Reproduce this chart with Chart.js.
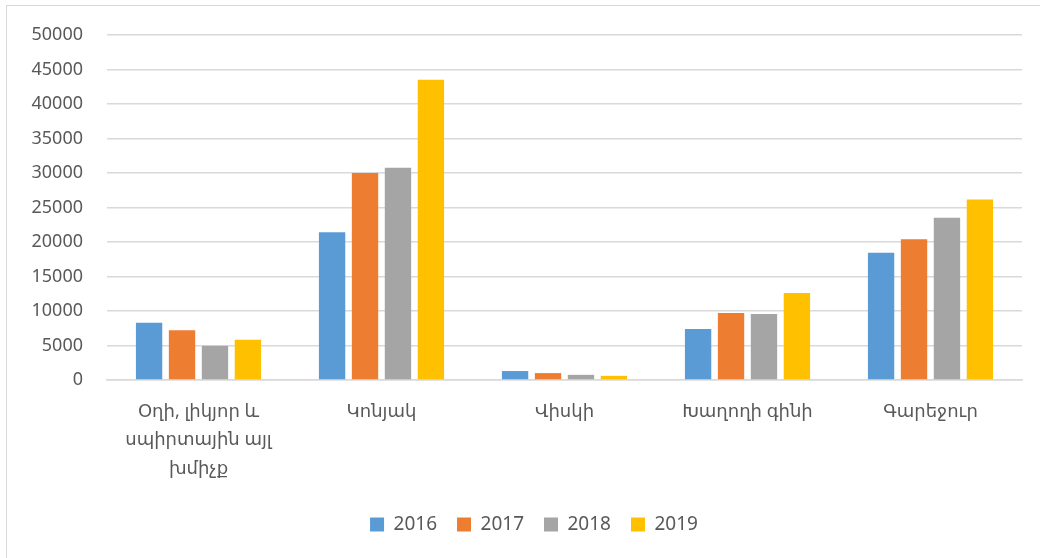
<!DOCTYPE html>
<html>
<head>
<meta charset="utf-8">
<script src="https://cdn.jsdelivr.net/npm/chart.js@4.4.1/dist/chart.umd.min.js"></script>
<style>
    html, body { margin: 0; padding: 0; background: #fff; overflow: hidden; }
    #marco {
        position: absolute; left: 6px; top: 5px; width: 1100px; height: 600px;
        border-left: 1px solid #d9d9d9; border-top: 1px solid #d9d9d9;
    }
    #caja { position: absolute; left: 0; top: 0; width: 1040px; height: 558px; }
</style>
</head>
<body>
<div id="marco"></div>
<div id="caja"><canvas id="barChart" width="1040" height="558"></canvas></div>
<script>
// Datos del gráfico
const categorias = [
    ["Օղի, լիկյոր և", "սպիրտային այլ", "խմիչք"],
    "Կոնյակ",
    "Վիսկի",
    "Խաղողի գինի",
    "Գարեջուր"
];
const anios = ["2016", "2017", "2018", "2019"];
const valores2016 = [8300, 21400, 1300, 7400, 18450];
const valores2017 = [7200, 30000, 1000, 9700, 20400];
const valores2018 = [4950, 30750, 750, 9550, 23500];
const valores2019 = [5850, 43500, 600, 12600, 26150];
const colores = ["#5B9BD5", "#ED7D31", "#A5A5A5", "#FFC000"];

const fuente = "'Noto Sans', 'DejaVu Sans', sans-serif";
const gris = "#595959";

const series = [valores2016, valores2017, valores2018, valores2019];

// Desplaza la leyenda un poco a la derecha (centrada como en el original)
const moverLeyenda = {
    id: "moverLeyenda",
    afterLayout(chart) {
        if (chart.legend) chart.legend.left += 46;
    }
};

new Chart(document.getElementById("barChart"), {
    type: "bar",
    data: {
        labels: categorias,
        datasets: series.map((datos, i) => ({
            label: anios[i],
            data: datos,
            backgroundColor: colores[i],
            borderWidth: 0,
            categoryPercentage: 0.72,
            barPercentage: 0.8
        }))
    },
    options: {
        responsive: false,
        animation: false,
        layout: { padding: { top: 35, right: 18, bottom: 14, left: 0 } },
        scales: {
            x: {
                grid: { display: false, drawTicks: false },
                border: { display: true, color: "#d9d9d9", width: 1.5 },
                ticks: {
                    color: gris,
                    font: { family: fuente, size: 18, lineHeight: 1.6 },
                    padding: 17,
                    maxRotation: 0,
                    autoSkip: false
                },
                afterFit: function(escala) { escala.height = 115; }
            },
            y: {
                min: 0,
                max: 50000,
                ticks: {
                    stepSize: 5000,
                    color: gris,
                    font: { family: fuente, size: 18 },
                    padding: 24,
                    callback: v => String(v) // sin separador de miles
                },
                grid: { color: "#d9d9d9", lineWidth: 1.5, drawTicks: false },
                border: { display: false },
                afterFit: function(escala) { escala.width = 107; }
            }
        },
        plugins: {
            legend: {
                position: "bottom",
                labels: {
                    color: gris,
                    font: { family: fuente, size: 19 },
                    boxWidth: 14,
                    boxHeight: 14,
                    padding: 20
                }
            },
            tooltip: { enabled: false }
        }
    },
    plugins: [moverLeyenda]
});
</script>
</body>
</html>
